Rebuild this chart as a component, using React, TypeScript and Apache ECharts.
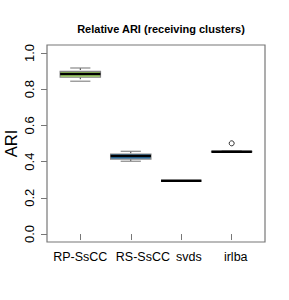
import React, { useEffect, useRef } from "react";
import * as echarts from "echarts";

const categories = ["RP-SsCC", "RS-SsCC", "svds", "irlba"];
const whiskerLow = [0.844, 0.402, 0.294, 0.452];
const q1 = [0.866, 0.414, 0.294, 0.453];
const median = [0.884, 0.431, 0.294, 0.455];
const q3 = [0.898, 0.442, 0.294, 0.457];
const whiskerHigh = [0.917, 0.457, 0.294, 0.459];
const outlierCategory = ["irlba"];
const outlierValue = [0.501];
const boxFills = ["#a6d96a", "#2c7bb6", "#d9d9d9", "#d9d9d9"];
const yTicks = [0, 0.2, 0.4, 0.6, 0.8, 1.0];
const xPositions = [1, 2, 3, 4];
// where each category name sits along the x axis in the reference
const xLabelPositions = [1, 2.24, 3.15, 4.08];

const FONT = "'Liberation Sans', Arial, Helvetica, sans-serif";

export default function App() {
  const ref = useRef<HTMLDivElement>(null);
  useEffect(() => {
    if (!ref.current) return;
    const chart = echarts.init(ref.current, null, { renderer: "svg" });
    const boxData = categories.map((_, i) => [
      xPositions[i],
      whiskerLow[i],
      q1[i],
      median[i],
      q3[i],
      whiskerHigh[i],
      i,
    ]);
    const outData = outlierCategory.map((c, i) => [
      xPositions[categories.indexOf(c)],
      outlierValue[i],
    ]);
    const frame = "#777";
    chart.setOption({
      animation: false,
      title: {
        text: "Relative ARI (receiving clusters)",
        left: 156,
        top: 18,
        textAlign: "center",
        textStyle: { fontFamily: FONT, fontSize: 11, fontWeight: "bold", color: "#000" },
      },
      grid: {
        left: 47,
        right: 24,
        top: 45,
        bottom: 58,
        containLabel: false,
        outerBoundsMode: "none",
        show: true,
        borderColor: frame,
        borderWidth: 1.2,
        backgroundColor: "transparent",
      },
      xAxis: {
        type: "value",
        min: 0.34,
        max: 4.66,
        splitLine: { show: false },
        axisLine: { show: false },
        axisTick: {
          show: true,
          inside: false,
          length: 6,
          customValues: xPositions,
          lineStyle: { color: frame, width: 1 },
        },
        axisLabel: {
          customValues: xLabelPositions,
          hideOverlap: false,
          showMinLabel: true,
          showMaxLabel: true,
          margin: 8,
          fontFamily: FONT,
          fontSize: 12.5,
          color: "#000",
          formatter: (v: number) => {
            let best = 0;
            xLabelPositions.forEach((p, i) => {
              if (Math.abs(p - v) < Math.abs(xLabelPositions[best] - v)) best = i;
            });
            return categories[best];
          },
        },
      },
      yAxis: {
        type: "value",
        min: -0.044,
        max: 1.044,
        name: "ARI",
        nameLocation: "middle",
        nameRotate: 90,
        nameGap: 28,
        nameMoveOverlap: false,
        nameTextStyle: { fontFamily: FONT, fontSize: 16.5, color: "#000" },
        splitLine: { show: false },
        axisLine: { show: false },
        axisTick: {
          show: true,
          inside: false,
          length: 6,
          customValues: yTicks,
          lineStyle: { color: frame, width: 1 },
        },
        axisLabel: {
          customValues: yTicks,
          rotate: 90,
          margin: 17.5,
          align: "center",
          verticalAlign: "middle",
          fontFamily: FONT,
          fontSize: 13,
          color: "#000",
          formatter: (v: number) => v.toFixed(1),
        },
      },
      series: [
        {
          type: "custom",
          data: boxData,
          encode: { x: 0, y: [1, 2, 3, 4, 5] },
          renderItem: (params: any, api: any) => {
            const x = api.value(0);
            const idx = api.value(6);
            const w = api.size([0.8, 0])[0];
            const cw = api.size([0.4, 0])[0];
            const pLow = api.coord([x, api.value(1)]);
            const pQ1 = api.coord([x, api.value(2)]);
            const pMed = api.coord([x, api.value(3)]);
            const pQ3 = api.coord([x, api.value(4)]);
            const pHigh = api.coord([x, api.value(5)]);
            const cx = pMed[0];
            const gray = "#888";
            return {
              type: "group",
              children: [
                {
                  type: "line",
                  shape: { x1: cx, y1: pHigh[1], x2: cx, y2: pQ3[1] },
                  style: { stroke: "#333", lineWidth: 1, lineDash: [2, 2] },
                },
                {
                  type: "line",
                  shape: { x1: cx, y1: pQ1[1], x2: cx, y2: pLow[1] },
                  style: { stroke: "#333", lineWidth: 1, lineDash: [2, 2] },
                },
                {
                  type: "line",
                  shape: { x1: cx - cw / 2, y1: pHigh[1], x2: cx + cw / 2, y2: pHigh[1] },
                  style: { stroke: gray, lineWidth: 1.2 },
                },
                {
                  type: "line",
                  shape: { x1: cx - cw / 2, y1: pLow[1], x2: cx + cw / 2, y2: pLow[1] },
                  style: { stroke: gray, lineWidth: 1.2 },
                },
                {
                  type: "rect",
                  shape: { x: cx - w / 2, y: pQ3[1], width: w, height: pQ1[1] - pQ3[1] },
                  style: { fill: boxFills[idx], stroke: gray, lineWidth: 1.2 },
                },
                {
                  type: "line",
                  shape: { x1: cx - w / 2, y1: pMed[1], x2: cx + w / 2, y2: pMed[1] },
                  style: { stroke: "#000", lineWidth: 2.5 },
                },
              ],
            };
          },
          z: 3,
        },
        {
          type: "scatter",
          data: outData,
          symbol: "circle",
          symbolSize: 5,
          itemStyle: { color: "transparent", borderColor: "#000", borderWidth: 1 },
          z: 4,
        },
      ],
    });
    return () => chart.dispose();
  }, []);
  return (
    <div
      ref={ref}
      style={{ position: "fixed", left: 0, top: 0, width: 289, height: 300, background: "#fff" }}
    />
  );
}
